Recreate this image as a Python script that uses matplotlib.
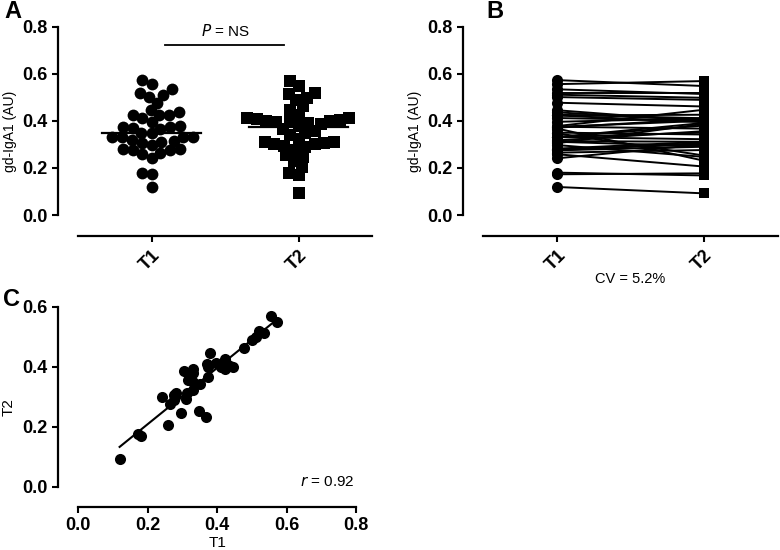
import numpy as np
import matplotlib
matplotlib.use('Agg')
import matplotlib.pyplot as plt

plt.rcParams['font.family'] = ['Liberation Sans', 'DejaVu Sans']

t1 = [0.119, 0.173, 0.180, 0.241, 0.258, 0.265, 0.275, 0.282, 0.297, 0.305,
      0.311, 0.314, 0.317, 0.331, 0.331, 0.331, 0.331, 0.347, 0.350, 0.367,
      0.375, 0.378, 0.371, 0.396, 0.423, 0.423, 0.426, 0.436, 0.445, 0.477,
      0.501, 0.511, 0.520, 0.534, 0.556, 0.573, 0.275, 0.279, 0.375, 0.412]
t2 = [0.092, 0.177, 0.168, 0.300, 0.206, 0.276, 0.306, 0.311, 0.247, 0.387,
      0.292, 0.311, 0.356, 0.391, 0.380, 0.322, 0.350, 0.253, 0.342, 0.231,
      0.367, 0.447, 0.409, 0.411, 0.426, 0.394, 0.411, 0.402, 0.398, 0.461,
      0.489, 0.498, 0.520, 0.514, 0.569, 0.548, 0.290, 0.300, 0.400, 0.400]
groups = ['T1', 'T2']
p_text = 'NS'
cv_text = 'CV = 5.2%'
r_text = '0.92'

t1 = np.array(t1)
t2 = np.array(t2)

W, H = 780, 550
fig = plt.figure(figsize=(7.8, 5.5), dpi=100)
TICK_FS = 13


def px_axes(l, t, r, b):
    return fig.add_axes([l / W, 1 - b / H, (r - l) / W, (b - t) / H])


def style(ax, ybounds, yticks, xbounds=None):
    for s in ['top', 'right']:
        ax.spines[s].set_visible(False)
    ax.spines['left'].set_position(('outward', 14.4))
    ax.spines['left'].set_bounds(*ybounds)
    if xbounds is not None:
        ax.spines['bottom'].set_bounds(*xbounds)
    for s in ['left', 'bottom']:
        ax.spines[s].set_linewidth(1.6)
    ax.set_yticks(yticks)
    ax.tick_params(width=1.5, length=4, labelsize=TICK_FS)
    for lab in ax.get_xticklabels() + ax.get_yticklabels():
        lab.set_fontweight('bold')


def swarm(vals, d, xs, ys):
    # simple beeswarm in pixel space, returns x offsets in data units
    order = np.argsort(vals)
    placed = []
    offs = np.zeros(len(vals))
    for i in order:
        y = vals[i] * ys
        cands = [0.0]
        for (px, py) in placed:
            dy = abs(py - y)
            if dy < d:
                dx = np.sqrt(d * d - dy * dy)
                cands += [px + dx, px - dx]
        best = 0.0
        for c in sorted(cands, key=lambda c: (abs(c), c)):
            if all((c - px) ** 2 + (y - py) ** 2 >= d * d - 1e-6 for (px, py) in placed):
                best = c
                break
        placed.append((best, y))
        offs[i] = best
    return offs / xs


# ---- panel A ----
axA = px_axes(78, 26.7, 372, 236)
axA.set_xlim(-0.5, 1.5)
axA.set_ylim(-(236 - 215) / 235.4, 0.8)
xsc, ysc = 146.0, 235.4
o1 = swarm(t1, 10.0, xsc, ysc)
o2 = swarm(t2, 9.5, xsc, ysc)
axA.plot(0 + o1, t1, 'o', color='black', ms=8.5, mew=0, clip_on=False)
axA.plot(1 + o2, t2, 's', color='black', ms=8.0, mew=0, clip_on=False)
for k, v in enumerate([t1, t2]):
    m = np.median(v)
    axA.plot([k - 0.336, k + 0.336], [m, m], color='black', lw=1.6)
axA.plot([0.094, 0.9], [0.722, 0.722], color='black', lw=1.3)
axA.text(0.5, 0.783, '$\\it{P}$ = ' + p_text, ha='center', va='center', fontsize=11)
axA.set_xticks([0, 1])
axA.set_xticklabels(groups, rotation=45, ha='right', rotation_mode='anchor')
axA.set_ylabel('gd-IgA1 (AU)', fontsize=10, labelpad=4)
style(axA, (0, 0.8), [0, 0.2, 0.4, 0.6, 0.8])
fig.text(4 / W, 1 - 11 / H, 'A', fontsize=17, fontweight='bold', va='center', ha='left')

# ---- panel B ----
axB = px_axes(483, 26.7, 778, 236)
axB.set_xlim(-0.51, 1.51)
axB.set_ylim(-(236 - 215) / 235.4, 0.8)
for a, b in zip(t1, t2):
    axB.plot([0, 1], [a, b], color='black', lw=1.4)
axB.plot(np.zeros(len(t1)), t1, 'o', color='black', ms=8.0, mew=0)
axB.plot(np.ones(len(t2)), t2, 's', color='black', ms=7.2, mew=0)
axB.set_xticks([0, 1])
axB.set_xticklabels(groups, rotation=45, ha='right', rotation_mode='anchor')
axB.set_ylabel('gd-IgA1 (AU)', fontsize=10, labelpad=4)
style(axB, (0, 0.8), [0, 0.2, 0.4, 0.6, 0.8])
fig.text(630 / W, 1 - 279 / H, cv_text, fontsize=10.5, ha='center', va='center')
fig.text(486 / W, 1 - 11 / H, 'B', fontsize=17, fontweight='bold', va='center', ha='left')

# ---- panel C ----
axC = px_axes(78.3, 306.7, 356, 506.7)
axC.set_xlim(0, 0.8)
axC.set_ylim(-20 / 300, 0.6)
axC.plot(t1, t2, 'o', color='black', ms=8.0, mew=0, clip_on=False)
slope, icpt = np.polyfit(t1, t2, 1)
xx = np.array([t1.min(), t1.max()])
axC.plot(xx, slope * xx + icpt, color='black', lw=1.5)
axC.text(0.797, 0.017, '$\\it{r}$ = ' + r_text, ha='right', va='center', fontsize=11)
axC.set_xticks([0, 0.2, 0.4, 0.6, 0.8])
axC.set_xlabel('T1', fontsize=11, labelpad=1)
axC.set_ylabel('T2', fontsize=11, labelpad=5)
style(axC, (0, 0.6), [0, 0.2, 0.4, 0.6], xbounds=(0, 0.8))
fig.text(3 / W, 1 - 300 / H, 'C', fontsize=17, fontweight='bold', va='center', ha='left')

fig.savefig('out.png', dpi=100)
